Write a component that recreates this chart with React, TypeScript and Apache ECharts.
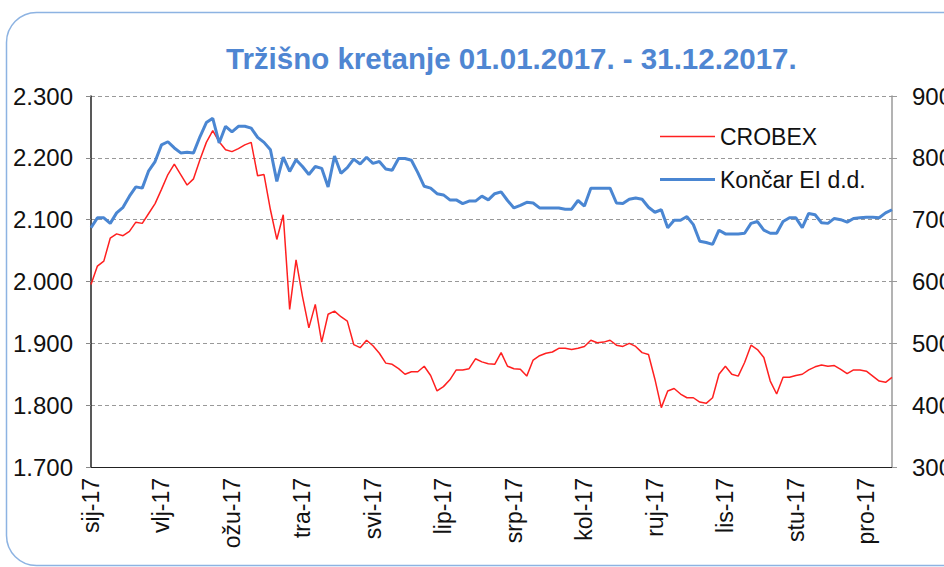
import React, { useEffect, useRef } from "react";
import * as echarts from "echarts";

const monthLabels = ["sij-17", "vlj-17", "ožu-17", "tra-17", "svi-17", "lip-17", "srp-17", "kol-17", "ruj-17", "lis-17", "stu-17", "pro-17"];
const labelEvery = 11;

const crobex = [
  1995, 2025, 2033, 2070, 2077, 2074, 2081, 2096, 2094, 2110,
  2126, 2149, 2173, 2190, 2173, 2156, 2166, 2197, 2225, 2244,
  2226, 2213, 2210, 2215, 2221, 2225, 2171, 2173, 2116, 2068,
  2108, 1955, 2035, 1976, 1925, 1963, 1902, 1947, 1952, 1943,
  1936, 1898, 1893, 1905, 1896, 1884, 1868, 1866, 1859, 1850,
  1854, 1854, 1863, 1848, 1823, 1830, 1841, 1857, 1857, 1859,
  1875, 1870, 1867, 1866, 1885, 1863, 1859, 1858, 1847, 1873,
  1880, 1884, 1886, 1892, 1892, 1890, 1892, 1895, 1905, 1901,
  1902, 1905, 1897, 1895, 1900, 1895, 1885, 1882, 1842, 1796,
  1823, 1827, 1818, 1812, 1812, 1805, 1803, 1812, 1850, 1863,
  1850, 1847, 1869, 1897, 1890, 1877, 1839, 1818, 1845, 1845,
  1848, 1850, 1857, 1862, 1865, 1863, 1864, 1858, 1851, 1857,
  1857, 1855, 1847, 1839, 1837, 1845,
];

const koncar = [
  687, 703, 703, 694, 711, 720, 738, 753, 751, 779,
  794, 821, 826, 816, 808, 809, 808, 834, 857, 864,
  824, 851, 842, 851, 851, 848, 833, 825, 813, 762,
  801, 778, 797, 786, 773, 786, 783, 753, 803, 775,
  784, 798, 790, 801, 791, 794, 782, 780, 799, 799,
  796, 776, 754, 751, 742, 740, 732, 732, 726, 730,
  730, 738, 732, 742, 745, 731, 719, 723, 728, 727,
  719, 719, 719, 719, 717, 717, 731, 722, 751, 751,
  751, 751, 727, 726, 733, 735, 733, 720, 712, 716,
  687, 699, 699, 705, 692, 665, 663, 660, 683, 677,
  677, 677, 678, 694, 697, 683, 678, 678, 697, 703,
  703, 687, 710, 708, 695, 694, 702, 700, 696, 702,
  703, 704, 704, 703, 711, 716,
];

const leftTicks = { min: 1700, max: 2300, interval: 100 };
const rightTicks = { min: 300, max: 900, interval: 100 };

const FONT = "Liberation Sans, Arial, sans-serif";
const RED = "#FF2020";
const BLUE = "#4A86D2";

function fmtThousands(v: number): string {
  const s = Math.round(v).toString();
  return s.replace(/\B(?=(\d{3})+(?!\d))/g, ".");
}

export default function App() {
  const ref = useRef<HTMLDivElement>(null);
  useEffect(() => {
    if (!ref.current) return;
    const chart = echarts.init(ref.current, null, { renderer: "svg" });
    const categories = crobex.map((_, i) =>
      i % labelEvery === 0 && monthLabels[i / labelEvery] ? monthLabels[i / labelEvery] : String(i)
    );
    chart.setOption({
      animation: false,
      backgroundColor: "#ffffff",
      textStyle: { fontFamily: FONT },
      title: {
        text: "Tržišno kretanje 01.01.2017. - 31.12.2017.",
        left: 221,
        top: 38,
        textStyle: { color: "#4F86D2", fontSize: 29.5, fontWeight: "bold", fontFamily: FONT },
      },
      graphic: [
        {
          type: "rect",
          shape: { x: 6.5, y: 12.5, width: 1000, height: 553, r: 30 },
          style: { fill: "none", stroke: "#8DB3E2", lineWidth: 1.5 },
          silent: true,
        },
      ],
      legend: {
        orient: "vertical",
        left: 655,
        top: 120,
        itemWidth: 55,
        itemHeight: 14,
        itemGap: 20,
        symbolKeepAspect: true,
        textStyle: { fontSize: 23, color: "#111", fontFamily: FONT },
        data: [
          { name: "CROBEX", icon: "path://M0 0H55V1.5H0Z" },
          { name: "Končar EI d.d.", icon: "path://M0 0H55V3.2H0Z" },
        ],
      },
      grid: {
        left: 91,
        right: 52,
        top: 96,
        bottom: 100,
        containLabel: false,
        outerBoundsMode: "none",
      },
      xAxis: {
        type: "category",
        data: categories,
        boundaryGap: false,
        axisLine: { show: true, lineStyle: { color: "#222", width: 1 } },
        axisTick: { show: false },
        axisLabel: {
          interval: labelEvery - 1,
          rotate: 90,
          margin: 11,
          fontSize: 23,
          color: "#111",
          fontFamily: FONT,
        },
        splitLine: { show: false },
      },
      yAxis: [
        {
          type: "value",
          min: leftTicks.min,
          max: leftTicks.max,
          interval: leftTicks.interval,
          position: "left",
          axisLine: { show: true, lineStyle: { color: "#222", width: 1.5 } },
          axisTick: { show: true, length: 5, lineStyle: { color: "#888" } },
          axisLabel: {
            formatter: (v: number) => fmtThousands(v),
            fontSize: 24,
            color: "#111",
            margin: 18,
            fontFamily: FONT,
          },
          splitLine: { show: true, lineStyle: { color: "#999", type: [4, 3], width: 1 } },
        },
        {
          type: "value",
          min: rightTicks.min,
          max: rightTicks.max,
          interval: rightTicks.interval,
          position: "right",
          axisLine: { show: true, lineStyle: { color: "#9a9a9a", width: 1.5 } },
          axisTick: { show: true, length: 5, lineStyle: { color: "#999" } },
          axisLabel: { fontSize: 24, color: "#111", margin: 20, fontFamily: FONT },
          splitLine: { show: false },
        },
      ],
      series: [
        {
          name: "CROBEX",
          type: "line",
          yAxisIndex: 0,
          data: crobex,
          symbol: "none",
          lineStyle: { color: RED, width: 1.5 },
          itemStyle: { color: RED },
        },
        {
          name: "Končar EI d.d.",
          type: "line",
          yAxisIndex: 1,
          data: koncar,
          symbol: "none",
          lineStyle: { color: BLUE, width: 3 },
          itemStyle: { color: BLUE },
        },
      ],
    });
    return () => chart.dispose();
  }, []);
  return (
    <div style={{ position: "absolute", left: 0, top: 0, width: 944, height: 567, overflow: "hidden" }}>
      <div ref={ref} style={{ width: 944, height: 567 }} />
    </div>
  );
}
